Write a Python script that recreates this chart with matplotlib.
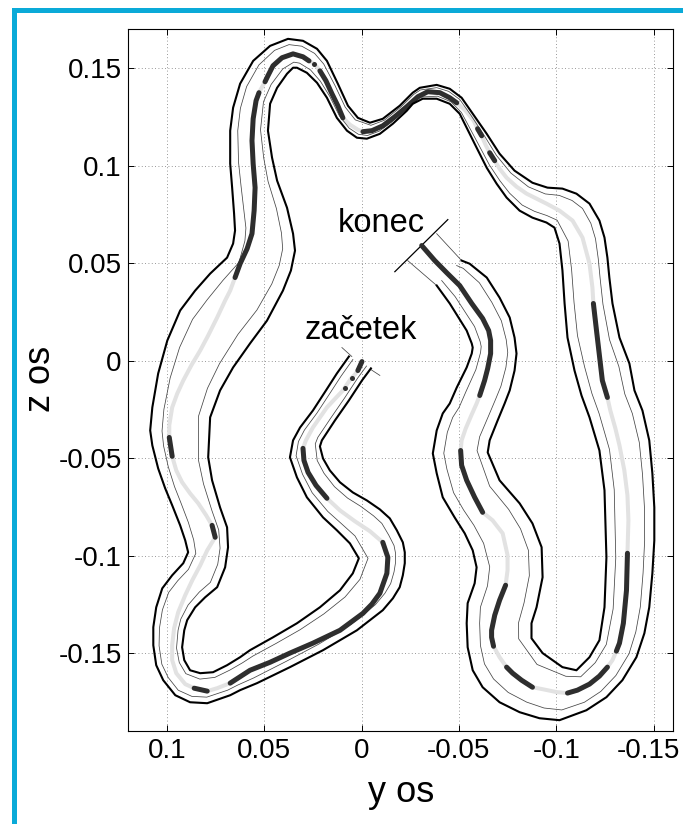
import numpy as np
import matplotlib.pyplot as plt
from matplotlib.patches import Rectangle
from matplotlib.transforms import ScaledTranslation

plt.rcParams['font.family'] = ['Liberation Sans', 'DejaVu Sans']

# trajektorija (mm): y, z in oznaka temnih odsekov
trak_y = [-0.2, 1.9, 3.4, 5.0, 6.5, 8.6, 9.6, 17.8, 25.0, 28.6,
          30.1, 29.6, 27.5, 23.4, 17.8, 11.1, 3.4, -4.3, -10.9, -13.5,
          -13.0, -9.4, -5.3, -0.7, 11.1, 25.0, 36.8, 47.0, 57.3, 67.5,
          74.2, 79.3, 86.0, 90.6, 95.2, 97.3, 97.3, 96.3, 94.2, 90.6,
          87.0, 82.9, 79.3, 75.2, 76.8, 79.8, 83.9, 88.1, 92.2, 95.2,
          97.3, 98.8, 98.8, 97.3, 94.7, 91.6, 87.5, 82.9, 78.8, 74.2,
          70.1, 67.5, 65.0, 62.4, 58.8, 56.3, 55.2, 54.7, 55.7, 56.3,
          55.7, 54.2, 52.7, 51.1, 49.6, 48.1, 45.5, 40.9, 35.2, 30.1,
          27.0, 26.0, 24.5, 23.4, 21.4, 18.3, 15.2, 12.2, 9.6, 6.0,
          1.9, -0.7, -5.3, -10.9, -17.1, -23.2, -28.9, -34.0, -40.2, -45.3,
          -48.9, -53.5, -57.6, -59.6, -61.7, -63.7, -65.8, -68.4, -70.9, -74.5,
          -79.6, -84.8, -95.0, -101.7, -108.4, -113.5, -117.1, -118.6, -119.1, -120.7,
          -122.2, -123.7, -126.3, -127.8, -130.4, -132.5, -135.0, -136.6, -137.1, -136.6,
          -136.1, -134.5, -132.5, -130.9, -128.9, -126.3, -122.2, -117.1, -110.9, -105.8,
          -100.2, -93.0, -87.8, -82.2, -77.6, -74.5, -70.9, -67.8, -66.8, -66.8,
          -68.4, -70.9, -74.0, -75.0, -75.0, -72.5, -67.3, -62.2, -58.1, -54.0,
          -51.4, -50.9, -51.4, -53.5, -56.6, -59.1, -60.7, -63.2, -64.8, -66.3,
          -66.3, -65.3, -62.2, -56.6, -50.4, -43.7, -37.6, -30.9]
trak_z = [-0.4, -5.0, -7.0, -8.6, -10.6, -13.7, -15.2, -23.9, -34.2, -40.8,
          -44.9, -51.1, -57.2, -63.9, -70.5, -76.7, -82.3, -87.4, -93.1, -100.8,
          -109.0, -119.2, -124.8, -129.5, -138.2, -144.8, -149.9, -154.6, -158.7, -165.3,
          -167.9, -169.4, -167.9, -165.8, -160.2, -153.5, -145.9, -137.1, -128.9, -120.2,
          -112.6, -104.9, -97.2, -90.5, -84.4, -79.3, -73.1, -68.0, -62.3, -56.2,
          -49.0, -39.3, -33.1, -23.9, -16.8, -10.1, -2.4, 5.3, 13.0, 22.2,
          30.9, 36.0, 42.7, 49.8, 57.5, 65.2, 77.0, 88.8, 101.1, 112.9,
          124.1, 133.4, 137.5, 140.5, 143.1, 146.2, 151.3, 155.4, 157.4, 155.9,
          153.8, 153.3, 152.3, 151.3, 148.7, 143.6, 136.9, 130.8, 124.6, 121.1,
          118.5, 117.5, 118.0, 120.5, 125.2, 130.3, 135.4, 138.0, 137.5, 134.9,
          132.3, 128.2, 123.1, 119.0, 115.4, 110.8, 106.7, 102.6, 98.5, 93.9,
          89.3, 85.7, 80.6, 77.0, 71.9, 63.2, 49.8, 37.6, 29.4, 15.5,
          2.7, -10.1, -18.8, -25.5, -34.7, -43.4, -56.2, -69.0, -81.8, -98.7,
          -117.7, -134.6, -144.8, -148.9, -153.5, -157.1, -161.7, -165.8, -168.9, -170.4,
          -169.9, -168.4, -167.4, -163.8, -160.2, -157.1, -152.0, -146.4, -141.8, -138.2,
          -130.5, -122.8, -115.1, -107.4, -99.7, -88.5, -81.8, -77.7, -70.0, -61.3,
          -53.6, -46.0, -40.8, -34.7, -27.5, -21.9, -17.8, -10.1, -3.9, 3.7,
          10.4, 15.5, 21.7, 29.4, 38.6, 45.2, 51.4, 59.1]
temno = [1, 1, 0, 1, 0, 1, 0, 0, 0, 0,
         1, 1, 1, 1, 1, 0, 0, 0, 1, 1,
         1, 1, 1, 1, 1, 1, 1, 1, 1, 1,
         0, 1, 1, 0, 0, 0, 0, 0, 0, 0,
         0, 0, 0, 1, 1, 0, 0, 0, 0, 0,
         1, 1, 0, 0, 0, 0, 0, 0, 0, 0,
         0, 0, 1, 1, 1, 1, 1, 1, 1, 1,
         1, 1, 1, 0, 1, 1, 1, 1, 1, 1,
         1, 0, 1, 0, 1, 1, 1, 1, 1, 0,
         0, 1, 1, 1, 1, 1, 1, 1, 1, 1,
         1, 0, 0, 1, 1, 0, 1, 1, 0, 0,
         0, 0, 0, 0, 0, 0, 0, 0, 1, 1,
         1, 1, 1, 0, 0, 0, 0, 0, 0, 1,
         1, 1, 1, 1, 0, 1, 1, 1, 1, 1,
         0, 0, 1, 1, 1, 1, 0, 1, 1, 1,
         1, 1, 1, 0, 0, 0, 0, 1, 1, 1,
         1, 1, 0, 0, 0, 0, 1, 1, 1, 1,
         1, 1, 1, 1, 1, 1, 1, 1]

# rob proge (mm), levo in desno glede na smer voznje
levo_y = [-4.8, -0.2, 6.5, 13.7, 20.4, 21.4, 19.8, 16.3, 11.1, 4.5,
          -2.7, -9.4, -14.5, -18.1, -21.2, -22.2, -22.2, -21.2, -19.6, -16.1,
          -10.9, -4.3, 2.4, 11.1, 19.8, 36.8, 53.7, 62.4, 67.5, 79.3,
          88.1, 95.7, 101.9, 105.5, 107.0, 107.0, 105.5, 102.4, 97.3, 91.6,
          89.1, 90.6, 93.2, 97.3, 100.9, 104.5, 107.5, 108.6, 107.5, 104.5,
          99.8, 93.2, 85.5, 77.8, 69.1, 66.0, 65.0, 65.5, 66.5, 67.5,
          67.5, 66.0, 62.4, 55.7, 47.0, 37.8, 30.1, 22.9, 17.8, 12.2,
          7.0, 1.9, -4.3, -10.9, -19.6, -26.3, -29.9, -38.6, -45.3, -51.4,
          -57.1, -64.3, -70.9, -78.6, -87.8, -95.5, -103.2, -110.4, -117.1, -122.2,
          -124.8, -126.3, -127.3, -128.9, -132.5, -137.6, -140.2, -144.3, -147.8, -149.4,
          -150.4, -150.4, -149.4, -147.8, -145.3, -141.2, -134.0, -125.8, -115.5, -101.7,
          -91.4, -81.2, -70.9, -62.2, -57.1, -54.5, -54.0, -54.5, -58.1, -59.1,
          -57.1, -53.0, -47.8, -41.7, -38.6, -36.6, -38.6, -41.7, -45.3, -48.9,
          -54.0, -56.6, -57.1, -56.6, -54.0, -45.3, -38.6]
levo_z = [-3.9, -10.1, -20.3, -30.6, -40.8, -43.9, -50.1, -56.2, -62.3, -67.5,
          -71.6, -76.2, -80.8, -86.9, -93.1, -98.2, -103.8, -110.0, -116.1, -121.8,
          -127.9, -133.0, -138.2, -143.3, -148.4, -157.1, -165.3, -168.9, -171.5, -175.6,
          -175.1, -171.5, -163.8, -156.1, -145.9, -136.6, -126.4, -116.7, -110.0, -103.8,
          -98.2, -92.1, -84.4, -74.1, -65.4, -55.2, -43.4, -35.7, -23.9, -6.5,
          10.4, 25.8, 36.0, 44.7, 52.9, 60.1, 66.8, 75.5, 88.8, 101.1,
          118.0, 129.8, 142.1, 153.8, 161.5, 165.1, 164.1, 160.0, 153.8, 142.1,
          130.8, 124.6, 122.1, 124.1, 130.8, 137.5, 140.0, 141.5, 139.5, 134.9,
          126.7, 116.4, 106.2, 97.5, 91.3, 88.8, 88.3, 85.7, 80.6, 71.9,
          63.2, 52.9, 42.7, 29.4, 11.9, -1.4, -15.2, -25.5, -40.8, -57.7,
          -75.2, -92.1, -109.0, -126.4, -139.7, -152.0, -163.8, -172.5, -179.2, -184.3,
          -183.3, -180.2, -175.1, -167.4, -158.7, -146.9, -134.6, -124.3, -114.1, -105.9,
          -97.2, -88.5, -80.3, -70.0, -57.7, -47.5, -35.7, -27.0, -21.9, -13.7,
          -3.4, 3.7, 6.8, 8.9, 15.5, 29.4, 38.6]
desno_y = [6.5, 12.7, 18.3, 25.0, 31.6, 35.2, 36.8, 33.2, 28.1, 19.8,
           12.7, 6.0, 1.4, 4.5, 11.1, 21.4, 33.2, 45.5, 57.3, 62.4,
           69.1, 76.3, 82.9, 88.1, 91.1, 92.2, 91.1, 89.6, 85.5, 80.4,
           74.2, 70.1, 68.6, 69.1, 72.7, 76.8, 78.8, 77.8, 72.7, 66.0,
           57.3, 48.6, 40.4, 36.3, 34.2, 35.2, 38.3, 43.4, 46.0, 48.1,
           47.0, 43.4, 38.3, 35.2, 33.2, 28.1, 22.9, 17.8, 12.7, 7.5,
           2.4, -2.7, -9.4, -16.1, -23.2, -26.3, -31.4, -38.6, -45.3, -50.4,
           -54.0, -59.1, -64.3, -69.4, -74.5, -81.2, -87.8, -95.0, -99.1, -101.7,
           -103.2, -104.3, -105.8, -109.4, -113.0, -117.1, -122.2, -124.8, -125.8, -124.8,
           -122.2, -117.1, -110.4, -103.2, -93.0, -87.3, -87.3, -89.9, -93.0, -92.5,
           -87.8, -81.2, -70.9, -64.8, -65.8, -69.9, -73.5, -76.1, -78.6, -79.6,
           -78.6, -76.1, -70.9, -64.3, -55.5, -51.4]
desno_z = [2.2, -6.5, -15.2, -25.5, -34.2, -40.8, -49.5, -59.8, -70.0, -80.3,
           -86.9, -93.6, -101.3, -109.0, -117.7, -126.4, -134.6, -141.8, -148.4, -152.0,
           -156.1, -159.7, -160.2, -158.7, -153.5, -146.9, -138.2, -133.0, -126.4, -121.3,
           -116.1, -105.9, -95.6, -85.4, -75.2, -61.3, -49.5, -29.0, -15.2, -3.4,
           8.9, 20.6, 36.0, 46.3, 56.5, 65.2, 78.5, 92.4, 104.2, 118.0,
           131.8, 140.0, 147.2, 150.3, 150.3, 147.7, 142.6, 134.9, 124.6, 118.0,
           114.4, 113.9, 116.4, 121.6, 128.2, 131.8, 134.4, 134.4, 131.8, 126.7,
           119.5, 109.3, 99.0, 90.8, 83.7, 77.0, 73.4, 70.9, 68.3, 60.1,
           46.3, 29.4, 11.9, -5.0, -17.8, -29.0, -46.0, -66.4, -100.8, -126.4,
           -143.3, -152.0, -158.7, -157.1, -149.9, -142.3, -134.6, -126.4, -111.0, -95.6,
           -83.4, -73.1, -61.3, -47.0, -40.8, -30.6, -21.9, -15.2, -5.0, 3.7,
           11.9, 22.2, 32.4, 42.7, 49.8, 51.4]

# oznake zacetka in konca (mm)
zacetek_y = [[10.1, 5.0], [-4.8, -9.4]]
zacetek_z = [[6.8, 2.2], [-4.5, -7.5]]
konec_y = [-17.1, -44.3]
konec_z = [45.7, 72.4]
konec_rob_y = [[-51.4, -38.6], [-38.6, -23.7]]
konec_rob_z = [[51.4, 65.2], [38.6, 51.4]]


def m(v):
    return np.asarray(v, dtype=float) / 1000.0


def najblizja(poly, p):
    a = poly[:-1]
    b = poly[1:]
    ab = b - a
    t = np.clip(((p - a) * ab).sum(1) / (ab ** 2).sum(1), 0, 1)
    proj = a + t[:, None] * ab
    return proj[((proj - p) ** 2).sum(1).argmin()]


fig = plt.figure(figsize=(6.83, 8.24), dpi=100)
ax = fig.add_axes([128 / 683, (824 - 731.3) / 824, 545 / 683, 702 / 824])

L = np.column_stack([m(levo_y), m(levo_z)])
R = np.column_stack([m(desno_y), m(desno_z)])

# svetla trajektorija
ax.plot(m(trak_y), m(trak_z), color='#e2e2e2', lw=2.9, solid_capstyle='round', zorder=2)

# tanke notranje crte
tanka_L = np.array([p + 0.2 * (najblizja(R, p) - p) for p in L])
tanka_R = np.array([p + 0.2 * (najblizja(L, p) - p) for p in R])
ax.plot(tanka_L[:, 0], tanka_L[:, 1], color='#444444', lw=0.55, zorder=3)
ax.plot(tanka_R[:, 0], tanka_R[:, 1], color='#444444', lw=0.55, zorder=3)
for yy, zz in zip(zacetek_y + konec_rob_y, zacetek_z + konec_rob_z):
    ax.plot(m(yy), m(zz), color='#444444', lw=0.55, zorder=3)
ax.plot(m(konec_y), m(konec_z), color='black', lw=0.9, zorder=3)

# temni odseki
ty, tz = m(trak_y), m(trak_z)
n = len(temno)
i = 0
while i < n:
    if temno[i]:
        j = i
        while j + 1 < n and temno[j + 1]:
            j += 1
        if j > i:
            ax.plot(ty[i:j + 1], tz[i:j + 1], color='#2e2e2e', lw=3.6,
                    solid_capstyle='round', solid_joinstyle='round', zorder=4)
        else:
            ax.plot(ty[i], tz[i], 'o', color='#2e2e2e', ms=3.6, mec='none', zorder=4)
        i = j + 1
    else:
        i += 1

# debeli robovi
ax.plot(L[:, 0], L[:, 1], color='black', lw=1.5, zorder=5)
ax.plot(R[:, 0], R[:, 1], color='black', lw=1.5, zorder=5)

ax.text(0.0122, 0.0659, 'konec', fontsize=23.5, ha='left', va='baseline', zorder=6)
ax.text(0.0291, 0.0113, 'začetek', fontsize=23.5, ha='left', va='baseline', zorder=6)

ax.set_xlim(0.12, -0.16)
ax.set_ylim(-0.19, 0.17)
ax.set_xticks([0.1, 0.05, 0, -0.05, -0.1, -0.15])
ax.set_xticklabels(['0.1', '0.05', '0', '-0.05', '-0.1', '-0.15'])
ax.set_yticks([-0.15, -0.1, -0.05, 0, 0.05, 0.1, 0.15])
ax.set_yticklabels(['-0.15', '-0.1', '-0.05', '0', '0.05', '0.1', '0.15'])
ax.grid(True, linestyle=(0, (1, 3)), color='#777777', lw=0.6)
ax.set_axisbelow(True)
ax.tick_params(direction='in', length=4, width=0.7, top=True, right=True, labelsize=20)
ax.tick_params(axis='x', pad=5)
ax.tick_params(axis='y', pad=4.5)
for s in ax.spines.values():
    s.set_linewidth(0.8)

# zadnjo oznako malo zamakni, da ostane znotraj slike
zadnja = ax.get_xticklabels()[-1]
zadnja.set_transform(zadnja.get_transform() + ScaledTranslation(-0.05, 0, fig.dpi_scale_trans))

fig.text(401 / 683, 1 - 802 / 824, 'y os', ha='center', va='baseline', fontsize=26)
fig.text(50 / 683, 1 - 379 / 824, 'z os', rotation=90, rotation_mode='anchor',
         ha='center', va='baseline', fontsize=26)

# modri okvir
modra = '#0aaad8'
fig.add_artist(Rectangle((12 / 683, 0), 5 / 683, (824 - 8) / 824,
                         transform=fig.transFigure, color=modra, lw=0))
fig.add_artist(Rectangle((12 / 683, (824 - 13) / 824), 1, 5 / 824,
                         transform=fig.transFigure, color=modra, lw=0))

fig.savefig('out.png', dpi=100)
